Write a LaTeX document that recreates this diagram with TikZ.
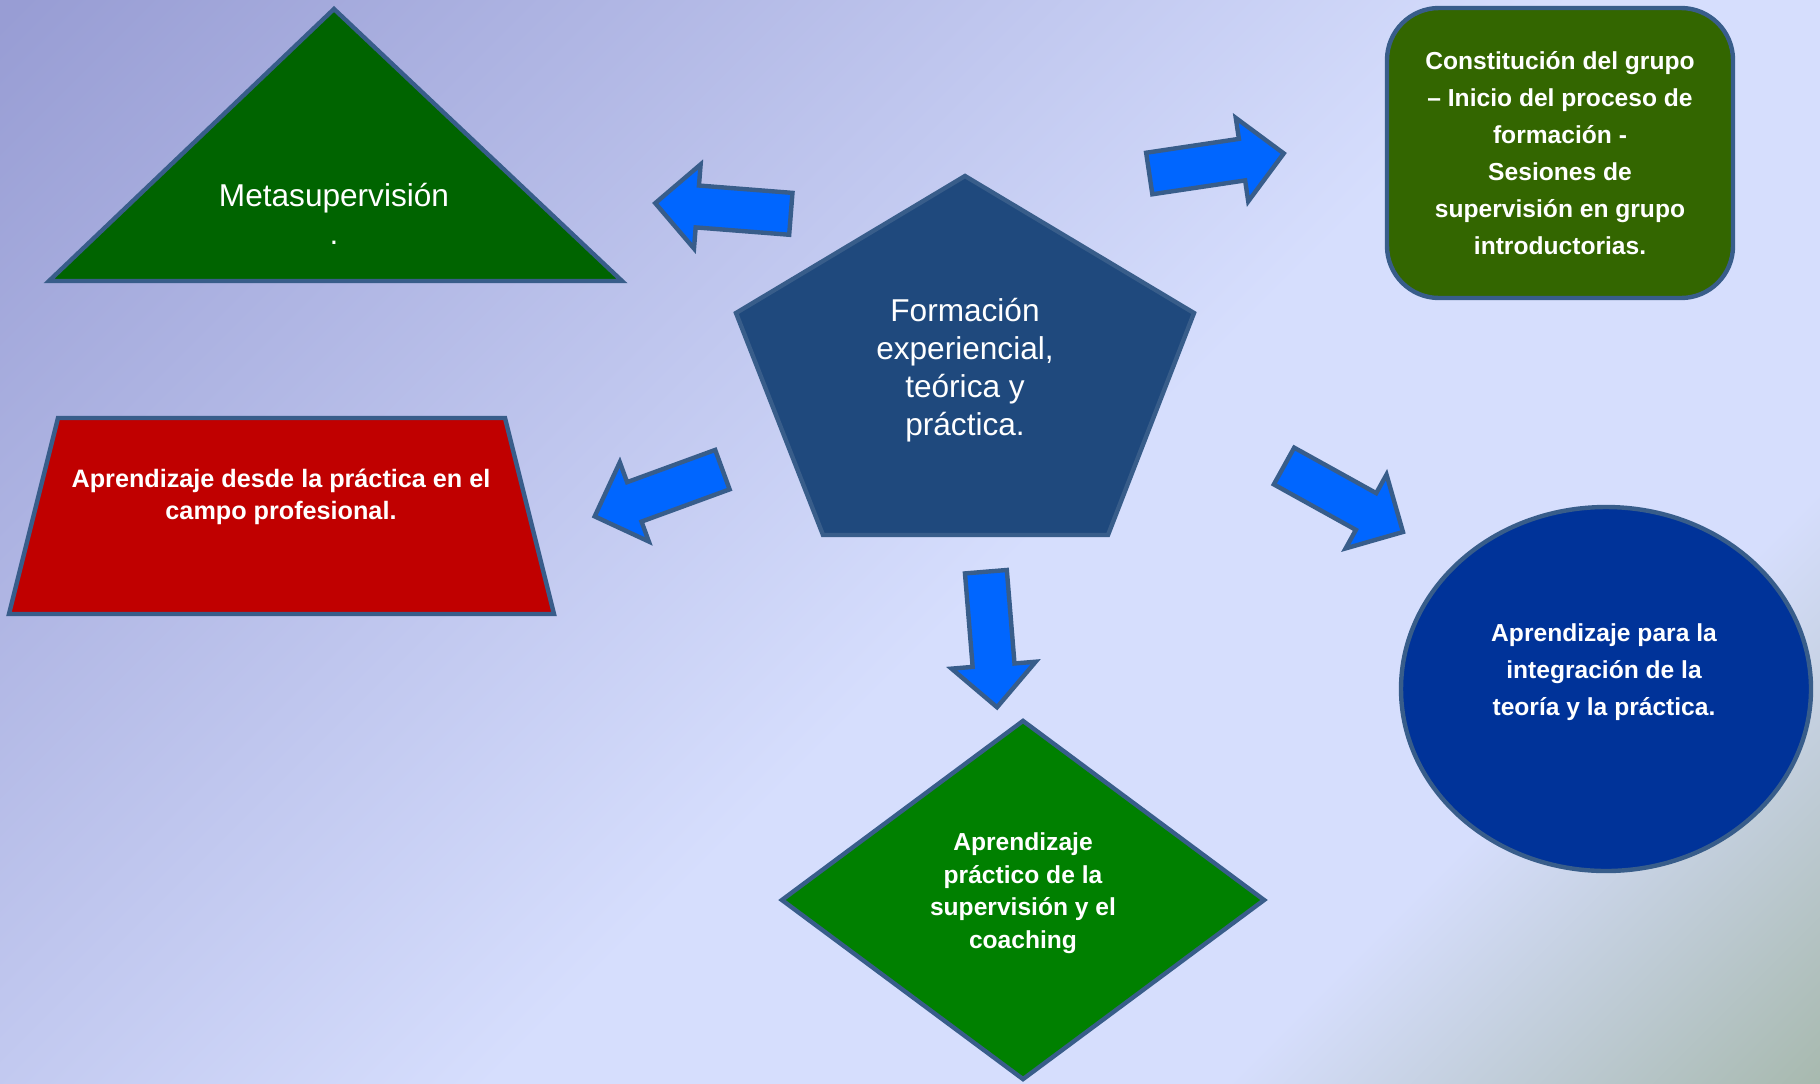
\documentclass[tikz,border=0pt]{standalone}
\usepackage{fontspec}
\setmainfont{Liberation Sans}
\usetikzlibrary{shapes.geometric,shapes.arrows}
\definecolor{borde}{RGB}{56,93,138}
\definecolor{azulflecha}{RGB}{0,102,255}
\definecolor{verdemeta}{RGB}{0,100,0}
\definecolor{azulcentro}{RGB}{31,73,125}
\definecolor{verdegrupo}{RGB}{51,102,0}
\definecolor{rojocampo}{RGB}{192,0,0}
\definecolor{azulteoria}{RGB}{0,51,153}
\definecolor{verdecoach}{RGB}{0,128,0}
\definecolor{fondoA}{RGB}{152,157,212}
\definecolor{fondoB}{RGB}{214,222,253}
\definecolor{fondoC}{RGB}{166,184,172}
\pgfdeclarehorizontalshading{fondo}{100bp}{color(0bp)=(fondoA); color(15bp)=(fondoA); color(53bp)=(fondoB); color(71bp)=(fondoB); color(86bp)=(fondoC); color(100bp)=(fondoC)}
\begin{document}
\begin{tikzpicture}[x=0.5pt, y=-0.5pt,
    forma/.style={draw=borde, line width=2.2pt},
    grande/.style={text=white, align=center, font=\fontsize{15.8}{19}\selectfont},
    chico/.style={text=white, align=center, font=\fontsize{12.3}{#1}\selectfont\bfseries},
    chico/.default=18.5,
    flecha/.style={single arrow, draw=borde, fill=azulflecha, line width=2.2pt, inner xsep=0pt, inner ysep=9.4pt,
        minimum height=68pt, minimum width=40pt, single arrow head extend=10.6pt, single arrow tip angle=90}]
    \shade[shading=fondo, shading angle=-45] (0,0) rectangle (1820,1083);
    \useasboundingbox (0,0) rectangle (1820,1083);

    \draw[forma, fill=verdemeta] (334,9) -- (622,281) -- (49,281) -- cycle;
    \node[grande] (meta) at (334,214) {Metasupervisión\\.};

    \draw[forma, fill=azulcentro] (965,176) -- (1194,313) -- (1108,535) -- (823,535) -- (736,313) -- cycle;
    \node[grande] (centro) at (965,370) {Formación\\experiencial,\\teórica y\\práctica.};

    \node[forma, fill=verdegrupo, rounded corners=26pt, minimum width=173pt, minimum height=145pt, chico] (grupo) at (1560,153)
        {Constitución del grupo\\– Inicio del proceso de\\formación -\\Sesiones de\\supervisión en grupo\\introductorias.};

    \draw[forma, fill=rojocampo] (58,418) -- (505,418) -- (554,614) -- (9,614) -- cycle;
    \node[chico=16.25, font=\fontsize{12.6}{16.25}\selectfont\bfseries] (campo) at (281,497) {Aprendizaje desde la práctica en el\\campo profesional.};

    \node[forma, fill=azulteoria, ellipse, minimum width=205pt, minimum height=182pt] (teoria) at (1606,689) {};
    \node[chico] (teoriatexto) at (1604,672) {Aprendizaje para la\\integración de la\\teoría y la práctica.};

    \node[forma, fill=verdecoach, diamond, minimum width=242pt, minimum height=180pt] (coaching) at (1023,900) {};
    \node[chico=16.25] (coachingtexto) at (1023,893) {Aprendizaje\\práctico de la\\supervisión y el\\coaching};

    \node[flecha, rotate=175.5] (flechaMeta) at (733.5,209.3) {};
    \node[flecha, rotate=8.5] (flechaGrupo) at (1206.1,165) {};
    \node[flecha, rotate=-85.3] (flechaCoaching) at (990.6,629) {};
    \node[flecha, rotate=-29] (flechaTeoria) at (1334.3,493.9) {};
    \node[flecha, rotate=-159.9] (flechaCampo) at (668.4,489.4) {};
\end{tikzpicture}
\end{document}
